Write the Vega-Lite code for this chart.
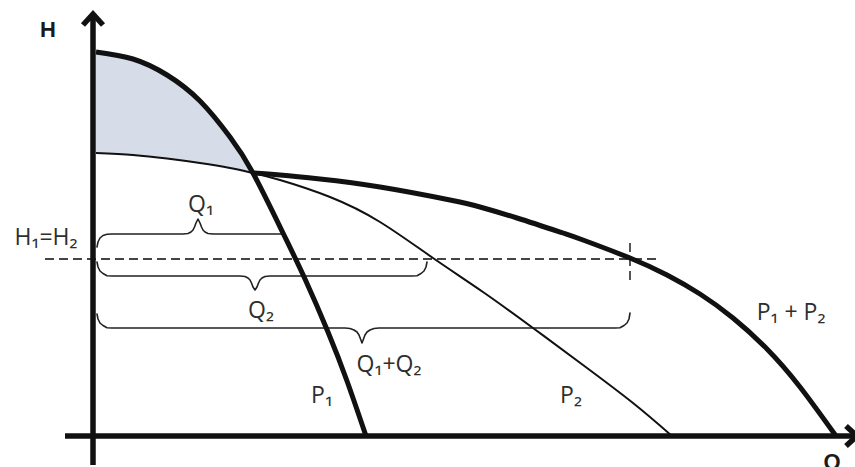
{
  "$schema": "https://vega.github.io/schema/vega-lite/v6.json",
  "width": 855,
  "height": 467,
  "padding": 0,
  "autosize": {"type": "none"},
  "background": "white",
  "config": {"view": {"stroke": null}},
  "datasets": {
    "shade": [
      {"q": 3, "top": 384, "bottom": 283},
      {"q": 40, "top": 377, "bottom": 281},
      {"q": 74, "top": 361, "bottom": 277.5},
      {"q": 107, "top": 335, "bottom": 273},
      {"q": 137, "top": 299, "bottom": 268},
      {"q": 160, "top": 263, "bottom": 263}
    ],
    "curves": [
      {"id": "P1", "i": 0, "q": 3, "h": 384},
      {"id": "P1", "i": 1, "q": 40, "h": 377},
      {"id": "P1", "i": 2, "q": 74, "h": 361},
      {"id": "P1", "i": 3, "q": 107, "h": 335},
      {"id": "P1", "i": 4, "q": 137, "h": 299},
      {"id": "P1", "i": 5, "q": 160, "h": 263},
      {"id": "P1", "i": 6, "q": 190, "h": 203},
      {"id": "P1", "i": 7, "q": 212, "h": 157},
      {"id": "P1", "i": 8, "q": 235, "h": 104},
      {"id": "P1", "i": 9, "q": 254, "h": 55},
      {"id": "P1", "i": 10, "q": 273, "h": 0},
      {"id": "P2", "i": 0, "q": 3, "h": 283},
      {"id": "P2", "i": 1, "q": 40, "h": 281},
      {"id": "P2", "i": 2, "q": 74, "h": 277.5},
      {"id": "P2", "i": 3, "q": 107, "h": 273},
      {"id": "P2", "i": 4, "q": 137, "h": 268},
      {"id": "P2", "i": 5, "q": 160, "h": 263},
      {"id": "P2", "i": 6, "q": 187, "h": 256},
      {"id": "P2", "i": 7, "q": 237, "h": 239},
      {"id": "P2", "i": 8, "q": 287, "h": 214},
      {"id": "P2", "i": 9, "q": 340, "h": 178},
      {"id": "P2", "i": 10, "q": 390, "h": 144},
      {"id": "P2", "i": 11, "q": 440, "h": 108},
      {"id": "P2", "i": 12, "q": 490, "h": 71},
      {"id": "P2", "i": 13, "q": 540, "h": 33},
      {"id": "P2", "i": 14, "q": 579, "h": 0},
      {"id": "P12", "i": 0, "q": 160, "h": 263},
      {"id": "P12", "i": 1, "q": 187, "h": 261},
      {"id": "P12", "i": 2, "q": 227, "h": 257},
      {"id": "P12", "i": 3, "q": 287, "h": 249},
      {"id": "P12", "i": 4, "q": 357, "h": 236},
      {"id": "P12", "i": 5, "q": 387, "h": 229},
      {"id": "P12", "i": 6, "q": 424, "h": 218},
      {"id": "P12", "i": 7, "q": 470, "h": 203},
      {"id": "P12", "i": 8, "q": 490, "h": 196},
      {"id": "P12", "i": 9, "q": 537, "h": 178},
      {"id": "P12", "i": 10, "q": 574, "h": 161},
      {"id": "P12", "i": 11, "q": 607, "h": 142},
      {"id": "P12", "i": 12, "q": 640, "h": 118},
      {"id": "P12", "i": 13, "q": 674, "h": 87},
      {"id": "P12", "i": 14, "q": 707, "h": 49},
      {"id": "P12", "i": 15, "q": 743, "h": 0}
    ],
    "braces": [
      {"id": "Q1", "i": 0, "q": 4, "h": 189},
      {"id": "Q1", "i": 1, "q": 5, "h": 194},
      {"id": "Q1", "i": 2, "q": 7, "h": 198},
      {"id": "Q1", "i": 3, "q": 10, "h": 200.5},
      {"id": "Q1", "i": 4, "q": 14, "h": 201.7},
      {"id": "Q1", "i": 5, "q": 19, "h": 202},
      {"id": "Q1", "i": 6, "q": 90, "h": 202},
      {"id": "Q1", "i": 7, "q": 95, "h": 202.5},
      {"id": "Q1", "i": 8, "q": 98, "h": 204},
      {"id": "Q1", "i": 9, "q": 100, "h": 206},
      {"id": "Q1", "i": 10, "q": 101.5, "h": 209},
      {"id": "Q1", "i": 11, "q": 103, "h": 213},
      {"id": "Q1", "i": 12, "q": 105, "h": 217},
      {"id": "Q1", "i": 13, "q": 107, "h": 213},
      {"id": "Q1", "i": 14, "q": 108.5, "h": 209},
      {"id": "Q1", "i": 15, "q": 110, "h": 206},
      {"id": "Q1", "i": 16, "q": 112, "h": 204},
      {"id": "Q1", "i": 17, "q": 115, "h": 202.5},
      {"id": "Q1", "i": 18, "q": 120, "h": 202},
      {"id": "Q1", "i": 19, "q": 190, "h": 202},
      {"id": "Q2", "i": 0, "q": 4, "h": 174},
      {"id": "Q2", "i": 1, "q": 5, "h": 169},
      {"id": "Q2", "i": 2, "q": 7, "h": 165},
      {"id": "Q2", "i": 3, "q": 10, "h": 162.5},
      {"id": "Q2", "i": 4, "q": 14, "h": 160.3},
      {"id": "Q2", "i": 5, "q": 19, "h": 160},
      {"id": "Q2", "i": 6, "q": 147, "h": 160},
      {"id": "Q2", "i": 7, "q": 152, "h": 159.5},
      {"id": "Q2", "i": 8, "q": 155, "h": 158},
      {"id": "Q2", "i": 9, "q": 157, "h": 156},
      {"id": "Q2", "i": 10, "q": 158.5, "h": 153},
      {"id": "Q2", "i": 11, "q": 160, "h": 149},
      {"id": "Q2", "i": 12, "q": 162, "h": 146},
      {"id": "Q2", "i": 13, "q": 164, "h": 149},
      {"id": "Q2", "i": 14, "q": 165.5, "h": 153},
      {"id": "Q2", "i": 15, "q": 167, "h": 156},
      {"id": "Q2", "i": 16, "q": 169, "h": 158},
      {"id": "Q2", "i": 17, "q": 172, "h": 159.5},
      {"id": "Q2", "i": 18, "q": 177, "h": 160},
      {"id": "Q2", "i": 19, "q": 319, "h": 160},
      {"id": "Q2", "i": 20, "q": 324, "h": 160.3},
      {"id": "Q2", "i": 21, "q": 328, "h": 162.5},
      {"id": "Q2", "i": 22, "q": 331, "h": 165},
      {"id": "Q2", "i": 23, "q": 333, "h": 169},
      {"id": "Q2", "i": 24, "q": 334, "h": 174},
      {"id": "Q12", "i": 0, "q": 4, "h": 122},
      {"id": "Q12", "i": 1, "q": 5, "h": 117},
      {"id": "Q12", "i": 2, "q": 7, "h": 113},
      {"id": "Q12", "i": 3, "q": 10, "h": 110.5},
      {"id": "Q12", "i": 4, "q": 14, "h": 108.3},
      {"id": "Q12", "i": 5, "q": 19, "h": 108},
      {"id": "Q12", "i": 6, "q": 252, "h": 108},
      {"id": "Q12", "i": 7, "q": 257, "h": 107.5},
      {"id": "Q12", "i": 8, "q": 261, "h": 106},
      {"id": "Q12", "i": 9, "q": 264, "h": 104},
      {"id": "Q12", "i": 10, "q": 266, "h": 101},
      {"id": "Q12", "i": 11, "q": 267.5, "h": 97},
      {"id": "Q12", "i": 12, "q": 269, "h": 93},
      {"id": "Q12", "i": 13, "q": 270.5, "h": 97},
      {"id": "Q12", "i": 14, "q": 272, "h": 101},
      {"id": "Q12", "i": 15, "q": 274, "h": 104},
      {"id": "Q12", "i": 16, "q": 277, "h": 106},
      {"id": "Q12", "i": 17, "q": 281, "h": 107.5},
      {"id": "Q12", "i": 18, "q": 286, "h": 108},
      {"id": "Q12", "i": 19, "q": 522, "h": 108},
      {"id": "Q12", "i": 20, "q": 527, "h": 108.3},
      {"id": "Q12", "i": 21, "q": 531, "h": 110.5},
      {"id": "Q12", "i": 22, "q": 534, "h": 113},
      {"id": "Q12", "i": 23, "q": 536, "h": 117},
      {"id": "Q12", "i": 24, "q": 537, "h": 123}
    ],
    "axes": [
      {"id": "yaxis", "i": 0, "q": 0, "h": -29},
      {"id": "yaxis", "i": 1, "q": 0, "h": 421},
      {"id": "yarrow", "i": 0, "q": -10, "h": 411},
      {"id": "yarrow", "i": 1, "q": 0, "h": 422},
      {"id": "yarrow", "i": 2, "q": 10, "h": 411},
      {"id": "xaxis", "i": 0, "q": -28, "h": 0},
      {"id": "xaxis", "i": 1, "q": 765, "h": 0},
      {"id": "xarrow", "i": 0, "q": 753, "h": 10},
      {"id": "xarrow", "i": 1, "q": 764, "h": 0},
      {"id": "xarrow", "i": 2, "q": 753, "h": -10}
    ],
    "dashes": [
      {"id": "level", "i": 0, "q": -48, "h": 177},
      {"id": "level", "i": 1, "q": 567, "h": 177},
      {"id": "tick", "i": 0, "q": 537, "h": 193},
      {"id": "tick", "i": 1, "q": 537, "h": 154}
    ],
    "labels": [
      {"label": "H₁=H₂", "q": -47, "h": 191},
      {"label": "Q₁", "q": 108, "h": 224},
      {"label": "Q₂", "q": 168, "h": 118},
      {"label": "Q₁+Q₂", "q": 296, "h": 64},
      {"label": "P₁", "q": 229, "h": 33},
      {"label": "P₂", "q": 478, "h": 33},
      {"label": "P₁ + P₂", "q": 698, "h": 116}
    ],
    "axisLabels": [
      {"label": "H", "q": -45, "h": 399},
      {"label": "Q", "q": 739, "h": -33}
    ]
  },
  "layer": [
    {
      "data": {"name": "shade"},
      "mark": {"type": "area", "interpolate": "natural", "color": "#d6dce8"},
      "encoding": {
        "x": {"field": "q", "type": "quantitative", "scale": {"domain": [-93, 762], "nice": false, "zero": false}, "axis": null},
        "y": {"field": "top", "type": "quantitative", "scale": {"domain": [-31, 436], "nice": false, "zero": false}, "axis": null},
        "y2": {"field": "bottom"}
      }
    },
    {
      "data": {"name": "dashes"},
      "mark": {"type": "line", "color": "#444", "strokeWidth": 1.8, "strokeDash": [9, 5]},
      "encoding": {
        "x": {"field": "q", "type": "quantitative", "scale": {"domain": [-93, 762], "nice": false, "zero": false}, "axis": null},
        "y": {"field": "h", "type": "quantitative", "scale": {"domain": [-31, 436], "nice": false, "zero": false}, "axis": null},
        "detail": {"field": "id"},
        "order": {"field": "i"}
      }
    },
    {
      "data": {"name": "braces"},
      "mark": {"type": "line", "color": "#222", "strokeWidth": 1.6, "strokeJoin": "round", "strokeCap": "round"},
      "encoding": {
        "x": {"field": "q", "type": "quantitative", "scale": {"domain": [-93, 762], "nice": false, "zero": false}, "axis": null},
        "y": {"field": "h", "type": "quantitative", "scale": {"domain": [-31, 436], "nice": false, "zero": false}, "axis": null},
        "detail": {"field": "id"},
        "order": {"field": "i"}
      }
    },
    {
      "data": {"name": "curves"},
      "transform": [{"filter": "datum.id === 'P2'"}],
      "mark": {"type": "line", "color": "#111", "strokeWidth": 2, "interpolate": "natural"},
      "encoding": {
        "x": {"field": "q", "type": "quantitative", "scale": {"domain": [-93, 762], "nice": false, "zero": false}, "axis": null},
        "y": {"field": "h", "type": "quantitative", "scale": {"domain": [-31, 436], "nice": false, "zero": false}, "axis": null},
        "order": {"field": "i"}
      }
    },
    {
      "data": {"name": "curves"},
      "transform": [{"filter": "datum.id !== 'P2'"}],
      "mark": {"type": "line", "color": "#111", "strokeWidth": 5, "interpolate": "natural"},
      "encoding": {
        "x": {"field": "q", "type": "quantitative", "scale": {"domain": [-93, 762], "nice": false, "zero": false}, "axis": null},
        "y": {"field": "h", "type": "quantitative", "scale": {"domain": [-31, 436], "nice": false, "zero": false}, "axis": null},
        "detail": {"field": "id"},
        "order": {"field": "i"}
      }
    },
    {
      "data": {"name": "axes"},
      "mark": {"type": "line", "color": "#111", "strokeWidth": 5.5, "strokeJoin": "miter", "strokeCap": "butt"},
      "encoding": {
        "x": {"field": "q", "type": "quantitative", "scale": {"domain": [-93, 762], "nice": false, "zero": false}, "axis": null},
        "y": {"field": "h", "type": "quantitative", "scale": {"domain": [-31, 436], "nice": false, "zero": false}, "axis": null},
        "detail": {"field": "id"},
        "order": {"field": "i"}
      }
    },
    {
      "data": {"name": "labels"},
      "mark": {"type": "text", "font": "Open Sans", "fontSize": 23, "color": "#2e2e2e", "align": "center", "baseline": "alphabetic"},
      "encoding": {
        "x": {"field": "q", "type": "quantitative", "scale": {"domain": [-93, 762], "nice": false, "zero": false}, "axis": null},
        "y": {"field": "h", "type": "quantitative", "scale": {"domain": [-31, 436], "nice": false, "zero": false}, "axis": null},
        "text": {"field": "label"}
      }
    },
    {
      "data": {"name": "axisLabels"},
      "mark": {"type": "text", "font": "Liberation Sans", "fontWeight": "bold", "fontSize": 22, "color": "#1a1a1a", "align": "center", "baseline": "alphabetic"},
      "encoding": {
        "x": {"field": "q", "type": "quantitative", "scale": {"domain": [-93, 762], "nice": false, "zero": false}, "axis": null},
        "y": {"field": "h", "type": "quantitative", "scale": {"domain": [-31, 436], "nice": false, "zero": false}, "axis": null},
        "text": {"field": "label"}
      }
    }
  ]
}
